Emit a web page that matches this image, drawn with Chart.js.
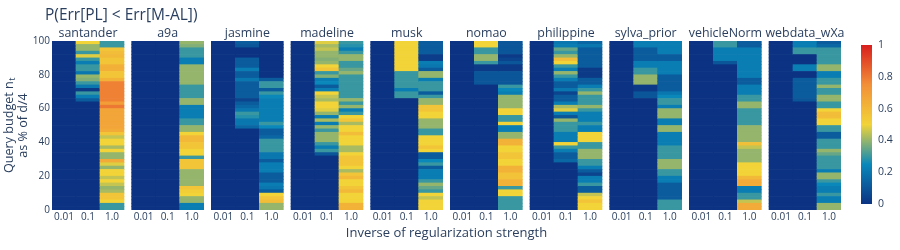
<!DOCTYPE html>
<html>
<head>
<meta charset="utf-8">
<script src="https://cdn.jsdelivr.net/npm/chart.js@4.4.1/dist/chart.umd.min.js"></script>
<style>
  html, body { margin: 0; padding: 0; background: #fff; }
  canvas { display: block; }
</style>
</head>
<body>
<canvas id="heat" width="900" height="250"></canvas>
<script>
// Panels, regularisation columns and budget bins
const datasetNames = ['santander', 'a9a', 'jasmine', 'madeline', 'musk', 'nomao', 'philippine', 'sylva_prior', 'vehicleNorm', 'webdata_wXa'];
const regLabels = ['0.01', '0.1', '1.0'];
const budgetEdges = [100, 98, 96, 94, 92, 90, 88, 86, 84, 82, 80, 78, 76, 74, 72, 70, 68, 66, 64, 62,
  60, 58, 56, 54, 52, 50, 48, 46, 44, 42, 40, 38, 36, 34, 32, 30, 28, 26, 24, 22,
  20, 18, 16, 14, 12, 10, 8, 6, 4, 2, 0];
const yTicks = [0, 20, 40, 60, 80, 100];
const cbTicks = [0, 0.2, 0.4, 0.6, 0.8, 1];

// Values per column, listed from budget 100% down to 0%
const reg001All = [
  0, 0, 0, 0, 0, 0, 0, 0, 0, 0,
  0, 0, 0, 0, 0, 0, 0, 0, 0, 0,
  0, 0, 0, 0, 0, 0, 0, 0, 0, 0,
  0, 0, 0, 0, 0, 0, 0, 0, 0, 0,
  0, 0, 0, 0, 0, 0, 0, 0, 0, 0];

const santander01 = [
  0.5, 0.4, 0.4, 0.3, 0.48, 0.3, 0.22, 0.3, 0.3, 0.2,
  0.4, 0.38, 0.3, 0.2, 0.02, 0.3, 0.22, 0.12, 0, 0,
  0, 0, 0, 0, 0, 0, 0, 0, 0, 0,
  0, 0, 0, 0, 0, 0, 0, 0, 0, 0,
  0, 0, 0, 0, 0, 0, 0, 0, 0, 0];
const santander10 = [
  0.3, 0.3, 0.55, 0.58, 0.6, 0.55, 0.55, 0.63, 0.63, 0.55,
  0.55, 0.62, 0.78, 0.78, 0.78, 0.78, 0.78, 0.78, 0.7, 0.8,
  0.67, 0.67, 0.67, 0.67, 0.67, 0.67, 0.65, 0.55, 0.45, 0.5,
  0.5, 0.42, 0.5, 0.4, 0.4, 0.65, 0.48, 0.4, 0.5, 0.5,
  0.45, 0.5, 0.45, 0.4, 0.42, 0.55, 0.55, 0.5, 0.3, 0.3];

const a9a01 = [
  0, 0, 0, 0, 0, 0, 0, 0, 0, 0,
  0, 0, 0, 0, 0, 0, 0, 0, 0, 0,
  0, 0, 0, 0, 0, 0, 0, 0, 0, 0,
  0, 0, 0, 0, 0, 0, 0, 0, 0, 0,
  0, 0, 0, 0, 0, 0, 0, 0, 0, 0];
const a9a10 = [
  0.4, 0.38, 0.3, 0.3, 0.3, 0.22, 0.22, 0.4, 0.4, 0.4,
  0.4, 0.4, 0.4, 0.3, 0.3, 0.3, 0.3, 0.4, 0.4, 0.22,
  0.22, 0.22, 0.22, 0.3, 0.3, 0.4, 0.4, 0.5, 0.6, 0.6,
  0.55, 0.55, 0.5, 0.5, 0.3, 0.55, 0.55, 0.55, 0.4, 0.4,
  0.4, 0.4, 0.4, 0.55, 0.52, 0.5, 0.4, 0.4, 0.22, 0.22];

const jasmine01 = [
  0.12, 0.1, 0, 0, 0, 0.12, 0.12, 0.12, 0.22, 0.12,
  0.12, 0.2, 0.12, 0.12, 0.12, 0.12, 0.12, 0.05, 0.12, 0.15,
  0.2, 0.3, 0.28, 0.2, 0.2, 0.15, 0, 0, 0, 0,
  0, 0, 0, 0, 0, 0, 0, 0, 0, 0,
  0, 0, 0, 0, 0, 0, 0, 0, 0, 0];
const jasmine10 = [
  0, 0, 0, 0, 0, 0, 0, 0, 0, 0,
  0, 0.12, 0.3, 0.3, 0.12, 0.3, 0.25, 0.22, 0.22, 0.22,
  0.22, 0.22, 0.22, 0.22, 0.3, 0.25, 0.12, 0.12, 0.15, 0.3,
  0.3, 0.3, 0.3, 0.2, 0.2, 0.12, 0.22, 0.22, 0.22, 0.12,
  0.12, 0.12, 0.22, 0.2, 0.12, 0.5, 0.55, 0.58, 0.4, 0.4];

const madeline01 = [
  0.48, 0.42, 0.45, 0.4, 0.4, 0.38, 0.4, 0.5, 0.55, 0.3,
  0.38, 0.22, 0.25, 0.12, 0.22, 0.5, 0.45, 0.42, 0.5, 0.5,
  0.48, 0.4, 0.22, 0.42, 0.22, 0.4, 0.3, 0.4, 0.4, 0.4,
  0.3, 0.22, 0.3, 0.1, 0, 0, 0, 0, 0, 0,
  0, 0, 0, 0, 0, 0, 0, 0, 0, 0];
const madeline10 = [
  0.3, 0.28, 0.22, 0.3, 0.4, 0.4, 0.3, 0.3, 0.35, 0.4,
  0.3, 0.3, 0.3, 0.3, 0.3, 0.3, 0.3, 0.4, 0.3, 0.4,
  0.22, 0.3, 0.5, 0.55, 0.42, 0.5, 0.5, 0.58, 0.5, 0.5,
  0.5, 0.42, 0.42, 0.5, 0.55, 0.55, 0.55, 0.5, 0.42, 0.55,
  0.6, 0.5, 0.5, 0.55, 0.6, 0.5, 0.5, 0.5, 0.62, 0.62];

const musk01 = [
  0.5, 0.5, 0.5, 0.5, 0.5, 0.5, 0.5, 0.5, 0.5, 0.3,
  0.3, 0.3, 0.3, 0.3, 0.22, 0.3, 0.3, 0, 0, 0,
  0, 0, 0, 0, 0, 0, 0, 0, 0, 0,
  0, 0, 0, 0, 0, 0, 0, 0, 0, 0,
  0, 0, 0, 0, 0, 0, 0, 0, 0, 0];
const musk10 = [
  0.12, 0.12, 0.12, 0.12, 0.03, 0.03, 0.22, 0.2, 0.12, 0.4,
  0.4, 0.22, 0.3, 0.3, 0.3, 0.12, 0.3, 0.4, 0.4, 0.55,
  0.55, 0.5, 0.5, 0.4, 0.4, 0.4, 0.3, 0.3, 0.5, 0.5,
  0.5, 0.55, 0.5, 0.12, 0.12, 0.25, 0.3, 0.12, 0.22, 0.22,
  0.22, 0.3, 0.4, 0.35, 0.3, 0.5, 0.45, 0.5, 0.5, 0.5];

const nomao01 = [
  0.5, 0.5, 0.3, 0.3, 0.4, 0.4, 0.3, 0.02, 0.02, 0.1,
  0.1, 0.1, 0.1, 0, 0, 0, 0, 0, 0, 0,
  0, 0, 0, 0, 0, 0, 0, 0, 0, 0,
  0, 0, 0, 0, 0, 0, 0, 0, 0, 0,
  0, 0, 0, 0, 0, 0, 0, 0, 0, 0];
const nomao10 = [
  0.1, 0.1, 0.1, 0.1, 0.02, 0.05, 0.1, 0.02, 0.02, 0.1,
  0.1, 0.1, 0.1, 0.3, 0.25, 0.22, 0.4, 0.4, 0.4, 0.4,
  0.5, 0.5, 0.3, 0.3, 0.5, 0.22, 0.22, 0.4, 0.4, 0.62,
  0.62, 0.5, 0.5, 0.55, 0.55, 0.5, 0.5, 0.62, 0.62, 0.56,
  0.56, 0.62, 0.62, 0.3, 0.5, 0.5, 0.3, 0.3, 0.3, 0.3];

const philippine01 = [
  0.2, 0.22, 0.35, 0.3, 0.4, 0.58, 0.5, 0.3, 0.22, 0.4,
  0.3, 0.22, 0.12, 0.12, 0.2, 0.05, 0.12, 0.12, 0.22, 0.42,
  0.48, 0.22, 0.1, 0.4, 0.3, 0.3, 0.3, 0.22, 0.22, 0.22,
  0.5, 0.3, 0.22, 0.12, 0.12, 0.15, 0, 0, 0, 0,
  0, 0, 0, 0, 0, 0, 0, 0, 0, 0];
const philippine10 = [
  0.15, 0.2, 0.12, 0.12, 0.12, 0.12, 0.12, 0.12, 0.02, 0.02,
  0.02, 0.12, 0.12, 0.22, 0.3, 0.4, 0.3, 0.3, 0.3, 0.4,
  0.3, 0.22, 0.22, 0.22, 0.3, 0.22, 0.22, 0.5, 0.5, 0.5,
  0.3, 0.3, 0.4, 0.4, 0.4, 0.3, 0.3, 0.22, 0.12, 0.05,
  0.22, 0.22, 0.3, 0.12, 0.12, 0.45, 0.5, 0.55, 0.5, 0.5];

const sylva01 = [
  0.22, 0.22, 0.12, 0.12, 0.12, 0.12, 0.22, 0.22, 0.3, 0.3,
  0.4, 0.4, 0.4, 0.02, 0.02, 0.1, 0.1, 0, 0, 0,
  0, 0, 0, 0, 0, 0, 0, 0, 0, 0,
  0, 0, 0, 0, 0, 0, 0, 0, 0, 0,
  0, 0, 0, 0, 0, 0, 0, 0, 0, 0];
const sylva10 = [
  0.22, 0.22, 0.22, 0.22, 0.12, 0.12, 0.22, 0.22, 0.22, 0.22,
  0.12, 0.12, 0.12, 0.12, 0.12, 0.2, 0.25, 0.3, 0.3, 0.22,
  0.4, 0.4, 0.4, 0.22, 0.22, 0.4, 0.4, 0.22, 0.22, 0.22,
  0.22, 0.3, 0.3, 0.3, 0.3, 0.4, 0.4, 0.4, 0.3, 0.3,
  0.22, 0.22, 0.12, 0.12, 0.12, 0.12, 0.12, 0.3, 0.3, 0.3];

const vehicle01 = [
  0.3, 0.3, 0.22, 0.22, 0.22, 0.22, 0.1, 0, 0, 0,
  0, 0, 0, 0, 0, 0, 0, 0, 0, 0,
  0, 0, 0, 0, 0, 0, 0, 0, 0, 0,
  0, 0, 0, 0, 0, 0, 0, 0, 0, 0,
  0, 0, 0, 0, 0, 0, 0, 0, 0, 0];
const vehicle10 = [
  0.12, 0.12, 0.22, 0.22, 0.22, 0.22, 0.22, 0.22, 0.22, 0.22,
  0.22, 0.12, 0.12, 0.22, 0.22, 0.22, 0.3, 0.3, 0.4, 0.4,
  0.3, 0.3, 0.3, 0.3, 0.3, 0.4, 0.4, 0.4, 0.4, 0.4,
  0.57, 0.45, 0.4, 0.4, 0.4, 0.4, 0.5, 0.5, 0.5, 0.5,
  0.6, 0.65, 0.65, 0.22, 0.22, 0.3, 0.3, 0.45, 0.65, 0.65];

const webdata01 = [
  0.22, 0.22, 0.3, 0.3, 0, 0, 0, 0.22, 0.22, 0,
  0, 0.12, 0.12, 0.12, 0.12, 0.12, 0.12, 0.1, 0, 0,
  0, 0, 0, 0, 0, 0, 0, 0, 0, 0,
  0, 0, 0, 0, 0, 0, 0, 0, 0, 0,
  0, 0, 0, 0, 0, 0, 0, 0, 0, 0];
const webdata10 = [
  0.12, 0.15, 0.3, 0.3, 0.3, 0.3, 0.3, 0.4, 0.4, 0.22,
  0.22, 0.3, 0.3, 0.4, 0.3, 0.3, 0.4, 0.4, 0.3, 0.3,
  0.5, 0.58, 0.58, 0.5, 0.5, 0.3, 0.3, 0.12, 0.12, 0.3,
  0.3, 0.3, 0.4, 0.35, 0.3, 0.3, 0.3, 0.3, 0.22, 0.4,
  0.4, 0.3, 0.25, 0.22, 0.22, 0.3, 0.22, 0.22, 0.4, 0.4];

const panelColumns = [
  [reg001All, santander01, santander10],
  [reg001All, a9a01, a9a10],
  [reg001All, jasmine01, jasmine10],
  [reg001All, madeline01, madeline10],
  [reg001All, musk01, musk10],
  [reg001All, nomao01, nomao10],
  [reg001All, philippine01, philippine10],
  [reg001All, sylva01, sylva10],
  [reg001All, vehicle01, vehicle10],
  [reg001All, webdata01, webdata10]
];

// Plotly "Portland" colour scale
const colorStops = [
  [0, [12, 51, 131]],
  [0.25, [10, 136, 186]],
  [0.5, [242, 211, 56]],
  [0.75, [242, 143, 56]],
  [1, [217, 30, 30]]
];

function portland(v) {
  for (let i = 1; i < colorStops.length; i++) {
    const [s0, c0] = colorStops[i - 1];
    const [s1, c1] = colorStops[i];
    if (v <= s1 || i === colorStops.length - 1) {
      const t = Math.max(0, Math.min(1, (v - s0) / (s1 - s0)));
      const c = c0.map((a, k) => Math.round(a + (c1[k] - a) * t));
      return 'rgb(' + c.join(',') + ')';
    }
  }
}

const textColor = '#2a3f5f';
const fontFamily = '"Open Sans", sans-serif';
Chart.defaults.font.family = fontFamily;
Chart.defaults.color = textColor;

// each panel is 3 columns wide, followed by a small gap
const panelStep = 3.32;
const xMax = (datasetNames.length - 1) * panelStep + regLabels.length;

const cells = [];
const tickCenters = [];
panelColumns.forEach((cols, p) => {
  cols.forEach((col, c) => {
    const xc = p * panelStep + c + 0.5;
    tickCenters.push(xc);
    col.forEach((v, k) => {
      cells.push({ x: xc, y: [budgetEdges[k + 1], budgetEdges[k]], v: v });
    });
  });
});

const decor = {
  id: 'decor',
  afterDraw(chart) {
    const { ctx, chartArea, scales: { x } } = chart;
    ctx.save();
    ctx.fillStyle = textColor;
    ctx.textBaseline = 'middle';

    // main title
    ctx.font = '15.5px ' + fontFamily;
    ctx.textAlign = 'left';
    ctx.fillText('P(Err[PL] < Err[M-AL])', 45, 16);

    // panel titles
    ctx.font = '12.4px ' + fontFamily;
    ctx.textAlign = 'center';
    datasetNames.forEach((name, p) => {
      ctx.fillText(name, x.getPixelForValue(p * panelStep + 1.5), 33);
    });

    // y axis title (two lines, rotated, with subscript)
    const yMid = (chartArea.top + chartArea.bottom) / 2;
    ctx.save();
    ctx.translate(9.5, yMid);
    ctx.rotate(-Math.PI / 2);
    ctx.font = '12.6px ' + fontFamily;
    const main = 'Query budget n';
    const w1 = ctx.measureText(main).width;
    ctx.font = '9px ' + fontFamily;
    const w2 = ctx.measureText('t').width;
    ctx.textAlign = 'left';
    ctx.font = '12.6px ' + fontFamily;
    ctx.fillText(main, -(w1 + w2) / 2, 0);
    ctx.font = '9px ' + fontFamily;
    ctx.fillText('t', -(w1 + w2) / 2 + w1 + 0.5, 3);
    ctx.restore();

    ctx.save();
    ctx.translate(23, yMid);
    ctx.rotate(-Math.PI / 2);
    ctx.font = '12.6px ' + fontFamily;
    ctx.textAlign = 'center';
    ctx.fillText('as % of d/4', 0, 0);
    ctx.restore();

    // colour bar
    const cbTop = 45, cbBottom = 204, cbLeft = 861, cbWidth = 11;
    const grad = ctx.createLinearGradient(0, cbBottom, 0, cbTop);
    colorStops.forEach(([s, c]) => grad.addColorStop(s, 'rgb(' + c.join(',') + ')'));
    ctx.fillStyle = grad;
    ctx.fillRect(cbLeft, cbTop, cbWidth, cbBottom - cbTop);
    ctx.fillStyle = textColor;
    ctx.font = '10.5px ' + fontFamily;
    ctx.textAlign = 'left';
    cbTicks.forEach(t => {
      ctx.fillText(String(t), cbLeft + cbWidth + 6, cbBottom - t * (cbBottom - cbTop));
    });
    ctx.restore();
  }
};

const heatCtx = document.getElementById('heat').getContext('2d');
new Chart(heatCtx, {
  type: 'bar',
  data: {
    datasets: [{
      data: cells,
      backgroundColor: ctx => portland(ctx.raw ? ctx.raw.v : 0),
      borderWidth: 0,
      barPercentage: 1,
      categoryPercentage: 1
    }]
  },
  options: {
    responsive: false,
    animation: false,
    events: [],
    layout: { padding: { top: 41, right: 59, left: 0, bottom: 0 } },
    plugins: {
      legend: { display: false },
      tooltip: { enabled: false }
    },
    scales: {
      x: {
        type: 'linear',
        min: 0,
        max: xMax,
        offset: false,
        grid: { display: false, drawTicks: false },
        border: { display: false },
        afterBuildTicks: scale => {
          scale.ticks = tickCenters.map(v => ({ value: v }));
        },
        ticks: {
          autoSkip: false,
          maxRotation: 0,
          padding: 1,
          font: { size: 10 },
          callback: (value, index) => regLabels[index % regLabels.length]
        },
        title: {
          display: true,
          text: 'Inverse of regularization strength',
          font: { size: 13 },
          padding: { top: 0, bottom: 9.2 }
        },
        afterFit: scale => { scale.height = 40; }
      },
      y: {
        min: 0,
        max: 100,
        grid: { display: false, drawTicks: false },
        border: { display: false },
        afterBuildTicks: scale => {
          scale.ticks = yTicks.map(v => ({ value: v }));
        },
        ticks: { padding: 2, font: { size: 10 } },
        afterFit: scale => { scale.width = 52; }
      }
    }
  },
  plugins: [decor]
});
</script>
</body>
</html>
